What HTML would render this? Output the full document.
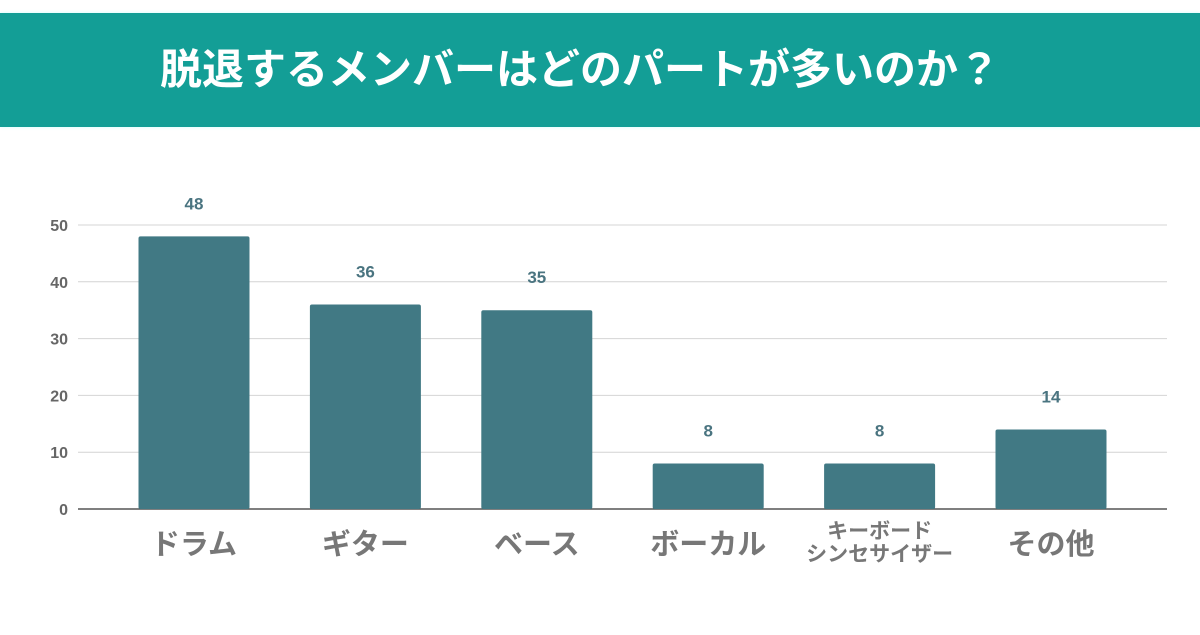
<!DOCTYPE html>
<html><head><meta charset="utf-8"><style>
body{margin:0;width:1200px;height:635px;background:#fff;overflow:hidden;font-family:"Liberation Sans","Noto Sans CJK JP",sans-serif}
#title{position:absolute;left:0;top:13px;width:1200px;height:114px;background:#139e96;box-shadow:0 0 3px #cff;color:#fff;font-weight:bold;font-size:42px;line-height:114px;text-indent:160px;white-space:nowrap}
svg{position:absolute;left:0;top:0}
</style></head><body>
<div id="title">脱退するメンバーはどのパートが多いのか？</div>
<svg id="chart" width="1200" height="635"></svg>
<script>
const categories=["ドラム","ギター","ベース","ボーカル","キーボード\nシンセサイザー","その他"];
const values=[48,36,35,8,8,14];
const ticks=[0,10,20,30,40,50];
const NS="http://www.w3.org/2000/svg";
const svg=document.getElementById('chart');
const y=v=>509-v*5.68;
const x=i=>194+i*171.4;
function mk(t,a,txt){const e=document.createElementNS(NS,t);for(const k in a)e.setAttribute(k,a[k]);if(txt!=null)e.textContent=txt;svg.appendChild(e);return e;}
ticks.forEach(t=>{
 const l=mk('line',{x1:78,x2:1167,y1:y(t),y2:y(t),stroke:t?'#d4d4d4':'#555','stroke-width':t?1:1.5});
 
 
 const tx=mk('text',{x:68,y:y(t)+6,'text-anchor':'end','font-size':16,'font-weight':'bold',fill:'#666'},t);
 
 
});
values.forEach((v,i)=>{
 const r=mk('rect',{x:x(i)-55.5,y:y(v),width:111,height:509-y(v),rx:2,fill:'#417984'});
 
 
 const t=mk('text',{x:x(i),y:y(v)-27,'text-anchor':'middle','font-size':17,'font-weight':'bold',fill:'#4a7480'},v);
 
 
 const lines=categories[i].split('\n');
 if(lines.length===1){
  const c=mk('text',{x:x(i),y:554,'text-anchor':'middle','font-size':29,'font-weight':'bold',fill:'#777'},lines[0]);
  
  
 }else{
  lines.forEach((s,j)=>{
   const c=mk('text',{x:x(i),y:538+j*23,'text-anchor':'middle','font-size':21,'font-weight':'bold',fill:'#777'},s);
   
   
  });
 }
});
</script>
</body></html>
